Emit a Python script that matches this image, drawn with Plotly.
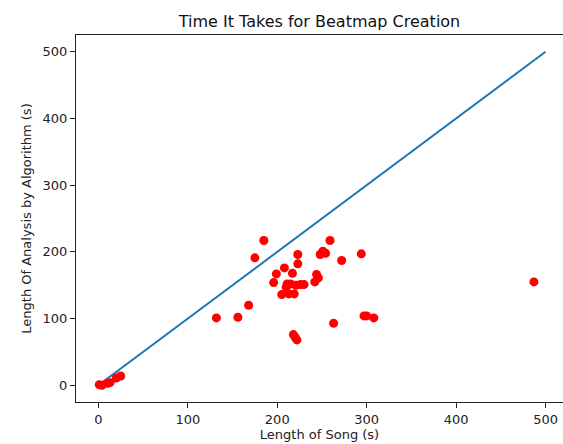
import plotly.graph_objects as go

song_length = [1, 4, 10, 13, 20, 25, 132, 156, 168, 175, 185, 196, 199, 205, 208, 210,
               211, 213, 215, 217, 218, 219, 220, 222, 221, 223, 223, 226, 230, 242,
               244, 246, 248, 251, 254, 259, 263, 272, 294, 297, 300, 308, 487]
analysis_length = [1, 0, 3, 4, 11, 14, 101, 102, 120, 191, 217, 154, 167, 136, 176, 147,
                   152, 137, 152, 168, 76, 137, 72, 68, 150, 196, 182, 151, 151, 155,
                   166, 161, 196, 201, 198, 217, 93, 187, 197, 104, 104, 101, 155]
line_x = [0, 500]
line_y = [0, 500]

fig = go.Figure()
fig.add_trace(go.Scatter(x=line_x, y=line_y, mode="lines",
                         line=dict(color="#1f77b4", width=2), showlegend=False))
fig.add_trace(go.Scatter(x=song_length, y=analysis_length, mode="markers",
                         marker=dict(color="red", size=9), showlegend=False))

W, H = 563, 444
font = "DejaVu Sans"
fig.update_layout(
    width=W, height=H,
    margin=dict(l=76, r=0, t=35, b=42),
    plot_bgcolor="white", paper_bgcolor="white",
    font=dict(family=font, size=13, color="#222"),
    title=dict(text="Time It Takes for Beatmap Creation", x=0.5, xref="paper",
               xanchor="center", y=1 - 21/H, yanchor="middle",
               font=dict(size=16, color="#111")),
)
fig.update_xaxes(range=[-25, 519.5], tickvals=[0, 100, 200, 300, 400, 500],
                 showgrid=False, zeroline=False, showline=True, linecolor="#222",
                 linewidth=1, mirror=True, ticks="outside", ticklen=5, tickcolor="#222",
                 tickfont=dict(size=13), ticklabeloverflow="allow",
                 title=dict(text="Length of Song (s)", standoff=4, font=dict(size=13)))
fig.update_yaxes(range=[-25, 525], tickvals=[0, 100, 200, 300, 400, 500],
                 showgrid=False, zeroline=False, showline=True, linecolor="#222",
                 linewidth=1, mirror=False, ticks="outside", ticklen=5, tickcolor="#222",
                 tickfont=dict(size=13),
                 title=dict(text="Length Of Analysis by Algorithm (s)", standoff=8,
                            font=dict(size=13)))

fig.write_html("out.html", config={"displayModeBar": False},
               post_script="document.body.style.margin='0';document.body.style.overflow='hidden';")
